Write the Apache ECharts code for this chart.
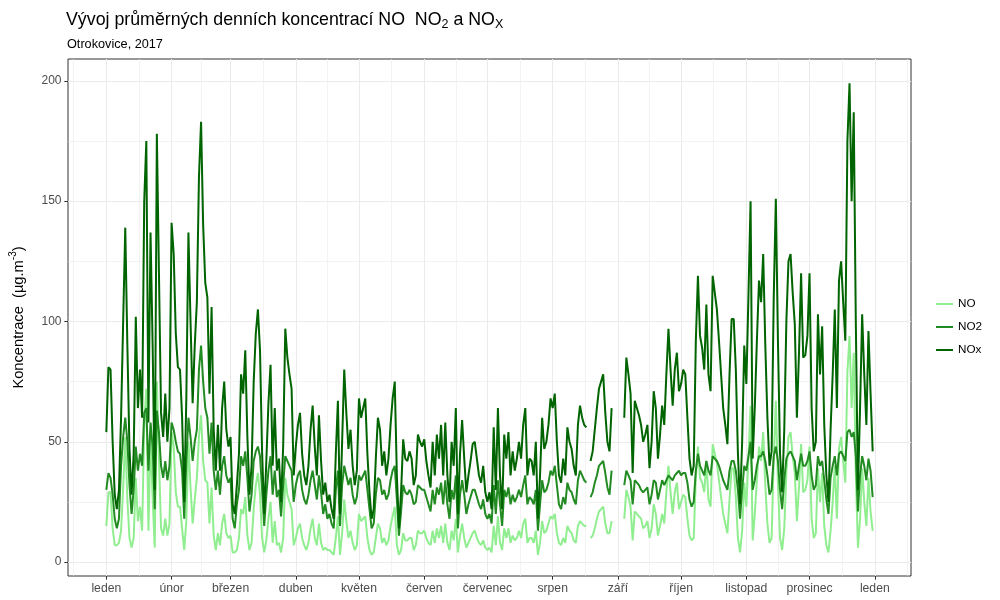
<!DOCTYPE html>
<html><head><meta charset="utf-8">
<script src="https://cdn.jsdelivr.net/npm/echarts@6/dist/echarts.min.js"></script>
<style>html,body{margin:0;padding:0;background:#fff}#chart{width:1000px;height:600px}</style>
</head><body><div id="chart"></div>
<script>
// ---- data (day index 0 = 1 Jan 2017) ----
const monthLabels = ['leden','únor','březen','duben','květen','červen','červenec','srpen','září','říjen','listopad','prosinec','leden'];
const monthStartDays = [0,31,59,90,120,151,181,212,243,273,304,334,365];
const minorDays = [-15.5,15.5,45,74.5,105,135.5,166,196.5,227.5,258,288.5,319,349.5,380.5];
const yTicks = [0,50,100,150,200];
const yMinorTicks = [25,75,125,175];
const seriesNames = ['NO','NO2','NOx'];

const noxValues = [
// leden
54,81,80,50,28,22,30,60,100,139,90,47,28,45,102,64,80,60,150,175,58,137,90,30,178,120,62,52,70,50,64,
// únor
141,128,95,81,80,60,25,68,137,100,66,90,108,160,183,140,116,110,70,106,55,38,57,38,64,75,55,48,
// březen
52,24,20,32,45,78,70,88,52,28,40,75,95,105,88,45,20,42,66,82,40,64,38,43,25,48,97,85,78,72,36,
// duben
48,57,62,45,36,32,40,55,65,48,36,61,42,28,33,25,28,22,18,45,67,20,50,80,62,47,55,40,32,38,
// květen
68,60,64,68,45,29,18,22,43,60,55,40,46,36,43,57,68,75,36,14,29,51,43,42,46,43,32,36,53,50,48,
// červen
51,42,36,31,50,36,53,43,57,36,58,36,25,50,40,64,20,45,59,43,29,36,42,49,50,43,36,33,40,29,
// červenec
25,29,22,56,30,64,36,22,53,43,54,36,46,38,43,50,43,57,64,36,43,42,36,50,18,36,60,47,50,57,68,
// srpen
64,70,50,36,33,43,36,56,50,47,40,36,57,65,60,57,56,null,42,46,55,64,72,75,78,62,50,46,64,null,null,
// září
null,null,null,60,85,78,70,37,67,64,61,57,50,53,57,39,50,71,64,43,53,65,57,78,97,80,65,80,87,71,
// říjen
74,80,78,60,43,36,40,92,119,94,89,80,107,78,71,119,112,105,92,78,64,57,49,78,101,101,80,45,24,50,90,
// listopad
74,111,150,43,64,92,117,108,128,90,60,40,46,110,151,92,45,29,55,100,125,128,112,99,60,87,120,85,86,94,
// prosinec
120,64,46,50,103,78,98,57,36,25,55,78,105,64,117,125,108,92,175,199,150,187,99,30,64,103,78,57,96,70,46
];

const no2Values = [
30,37,35,28,18,14,18,40,52,60,50,32,20,30,48,38,45,40,62,64,38,58,48,22,63,54,40,35,42,34,40,
58,55,50,46,45,38,18,42,60,52,42,50,55,80,90,75,64,60,45,58,38,30,38,28,40,44,36,33,
35,18,14,24,30,44,40,46,35,21,28,42,46,48,44,30,15,28,38,44,28,38,27,30,19,32,44,42,40,38,25,
32,36,38,30,26,24,28,34,38,32,26,36,29,20,24,18,20,16,14,30,38,15,32,40,36,32,35,28,24,27,
36,34,36,38,30,22,14,16,28,35,34,28,30,26,28,34,38,40,26,11,21,32,29,28,30,28,24,25,32,31,30,
30,27,24,21,30,24,31,28,33,24,34,24,18,30,26,36,14,28,34,28,20,24,27,30,30,27,24,22,26,20,
18,20,16,32,20,34,24,15,30,27,31,24,28,25,27,30,27,32,36,24,27,26,24,30,13,24,34,29,30,33,38,
36,40,32,24,22,27,24,33,30,29,26,24,34,38,36,34,33,null,27,29,33,36,40,41,42,37,31,28,38,null,null,
null,null,null,32,38,36,34,24,34,33,32,30,29,30,31,24,28,34,33,26,30,34,32,34,36,35,34,36,37,38,
36,37,37,33,26,23,25,38,45,40,38,36,42,38,36,44,43,42,40,37,34,32,30,38,42,42,38,30,18,30,40,
38,44,50,30,34,40,44,44,46,42,36,28,30,44,48,42,30,22,34,43,45,46,44,42,34,40,45,40,40,42,
46,36,30,32,44,40,42,34,26,20,35,40,44,36,45,46,44,42,54,55,52,54,44,21,36,44,40,34,43,38,27
];

const noValues = [
15,29,29,14,7,7,8,13,31,52,26,10,6,10,35,17,23,13,57,72,13,52,27,6,75,43,14,11,18,11,16,
54,48,29,23,23,14,5,17,50,31,16,26,35,52,61,42,34,33,16,31,11,5,12,7,16,20,12,10,
11,4,4,5,10,22,20,27,11,5,8,22,32,37,28,10,4,9,18,25,8,17,7,8,4,10,35,28,25,22,7,
10,14,16,10,7,5,8,14,18,10,7,16,8,5,6,5,5,4,3,10,19,3,12,26,17,10,13,8,5,7,
20,17,18,19,10,5,3,4,10,16,14,8,10,7,9,15,19,23,7,3,5,12,9,9,10,10,5,7,13,12,12,
13,10,8,7,13,8,14,10,15,8,16,8,5,13,9,18,4,11,16,10,6,8,10,12,13,10,8,7,9,6,
5,6,4,15,7,19,8,5,14,10,14,8,11,9,10,13,10,16,18,8,10,10,8,13,3,8,17,12,13,16,19,
18,20,12,8,7,10,8,15,13,12,9,8,15,17,16,15,15,null,10,11,14,18,21,22,23,16,12,12,17,null,null,
null,null,null,18,30,27,23,9,21,20,19,18,14,15,17,10,14,24,20,11,15,20,16,29,40,29,20,29,33,22,
25,28,27,18,11,9,10,35,48,35,33,29,42,26,23,49,45,41,34,27,20,16,12,26,39,39,27,10,4,13,33,
23,44,65,9,20,34,48,42,54,32,16,8,10,43,67,33,10,5,14,37,52,54,44,37,17,31,49,29,30,34,
48,18,10,12,39,25,37,15,7,4,13,25,40,18,47,52,42,33,79,94,64,87,36,6,18,39,25,15,35,21,13
];

// ---- chart ----
const FONT = 'Liberation Sans, Arial, sans-serif';
const toPairs = arr => arr.map((v, i) => [i, v]);
const colors = ['#90EE90', '#228B22', '#006400'];
const X_MIN = -18.2, X_MAX = 382.2, Y_MIN = -5.8, Y_MAX = 209.1;

const chart = echarts.init(document.getElementById('chart'), null, {renderer: 'canvas'});
chart.setOption({
  animation: false,
  backgroundColor: '#ffffff',
  textStyle: {fontFamily: FONT},
  title: [
    {
      text: '{a|Vývoj průměrných denních koncentrací NO  NO}{s|2}{a| a NO}{s|X}',
      left: 66, top: 9, padding: 0,
      textStyle: {
        fontWeight: 'normal',
        rich: {
          a: {fontSize: 17.8, fontWeight: 'normal', color: '#000000', fontFamily: FONT},
          s: {fontSize: 12.5, fontWeight: 'normal', color: '#000000', fontFamily: FONT, padding: [9, 0, 0, 0]}
        }
      }
    },
    {
      text: 'Otrokovice, 2017',
      left: 67, top: 38, padding: 0,
      textStyle: {fontSize: 12.7, fontWeight: 'normal', color: '#000000', fontFamily: FONT}
    }
  ],
  legend: {
    orient: 'vertical', left: 936, top: 297, padding: 0,
    icon: 'rect',
    itemWidth: 17, itemHeight: 2, itemGap: 9,
    textStyle: {fontSize: 11.7, color: '#000000', fontFamily: FONT, lineHeight: 14},
    data: seriesNames
  },
  grid: {left: 68, right: 89, top: 59, bottom: 24, show: true, borderColor: '#333333', borderWidth: 1, containLabel: false},
  xAxis: [
    {
      type: 'value', min: X_MIN, max: X_MAX, position: 'bottom',
      axisLine: {show: false, onZero: false},
      axisTick: {show: true, customValues: monthStartDays, length: 3.7, lineStyle: {color: '#333333'}},
      axisLabel: {customValues: monthStartDays, formatter: v => monthLabels[monthStartDays.indexOf(Math.round(v))] || '', color: '#4D4D4D', fontSize: 12.2, margin: 6.5, fontFamily: FONT},
      splitLine: {show: true, lineStyle: {color: '#EBEBEB', width: 1}}
    },
    {
      type: 'value', min: X_MIN, max: X_MAX, position: 'bottom',
      axisLine: {show: false, onZero: false},
      axisTick: {show: false, customValues: minorDays},
      axisLabel: {show: false, customValues: minorDays},
      splitLine: {show: true, lineStyle: {color: '#EBEBEB', width: 0.6}}
    }
  ],
  yAxis: [
    {
      type: 'value', min: Y_MIN, max: Y_MAX, position: 'left',
      axisLine: {show: false, onZero: false},
      axisTick: {show: true, customValues: yTicks, length: 3.7, lineStyle: {color: '#333333'}},
      axisLabel: {customValues: yTicks, color: '#4D4D4D', fontSize: 12, margin: 6.5, fontFamily: FONT},
      splitLine: {show: true, lineStyle: {color: '#EBEBEB', width: 1}},
      name: '{a|Koncentrace  (µg.m}{s|-3}{a|)}',
      nameLocation: 'middle', nameRotate: 90, nameGap: 38,
      nameTextStyle: {
        rich: {
          a: {fontSize: 14.7, color: '#000000', fontFamily: FONT},
          s: {fontSize: 10, color: '#000000', fontFamily: FONT, padding: [0, 0, 12, 0]}
        }
      }
    },
    {
      type: 'value', min: Y_MIN, max: Y_MAX, position: 'left',
      axisLine: {show: false, onZero: false},
      axisTick: {show: false, customValues: yMinorTicks},
      axisLabel: {show: false, customValues: yMinorTicks},
      splitLine: {show: true, lineStyle: {color: '#EBEBEB', width: 0.6}}
    }
  ],
  series: [
    {name: 'NO', type: 'line', xAxisIndex: 0, yAxisIndex: 0, symbol: 'none', data: toPairs(noValues), lineStyle: {color: colors[0], width: 2}, itemStyle: {color: colors[0]}},
    {name: 'NO2', type: 'line', xAxisIndex: 0, yAxisIndex: 0, symbol: 'none', data: toPairs(no2Values), lineStyle: {color: colors[1], width: 2}, itemStyle: {color: colors[1]}},
    {name: 'NOx', type: 'line', xAxisIndex: 0, yAxisIndex: 0, symbol: 'none', data: toPairs(noxValues), lineStyle: {color: colors[2], width: 2}, itemStyle: {color: colors[2]}}
  ]
});
</script>
</body></html>
